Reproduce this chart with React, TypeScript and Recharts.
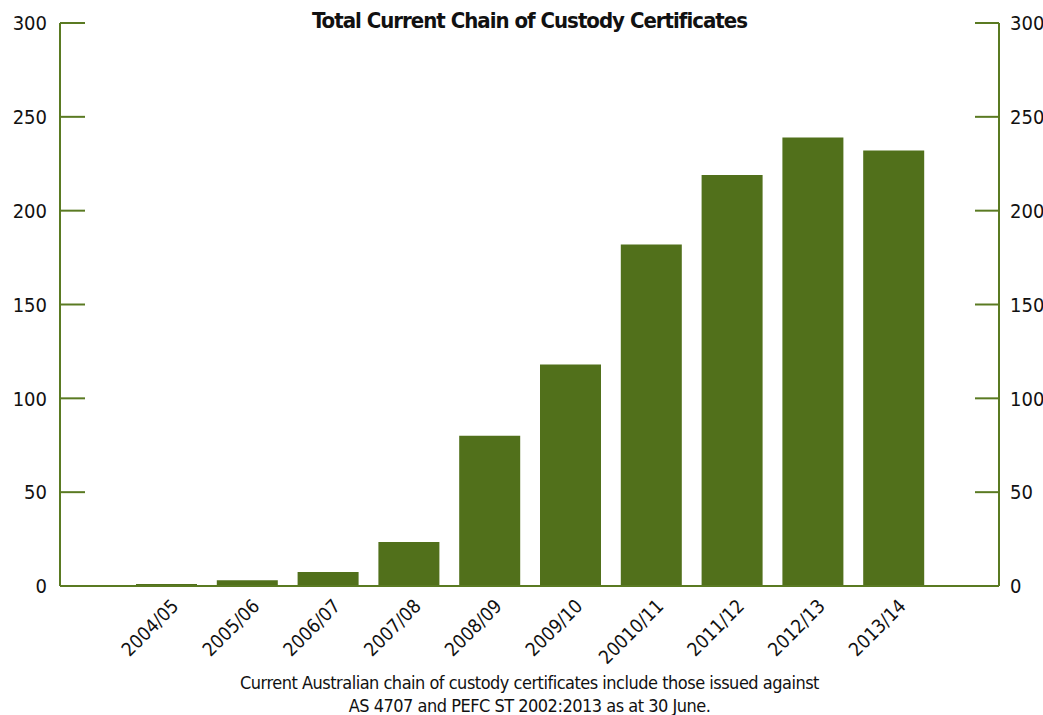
import { ComposedChart, Bar, Line, XAxis, YAxis } from "recharts";

const categories = [
  "2004/05",
  "2005/06",
  "2006/07",
  "2007/08",
  "2008/09",
  "2009/10",
  "20010/11",
  "2011/12",
  "2012/13",
  "2013/14",
];
const certificates = [1, 3, 7.5, 23.5, 80, 118, 182, 219, 239, 232];
const yTicks = [0, 50, 100, 150, 200, 250, 300];

const title = "Total Current Chain of Custody Certificates";
const noteLines = [
  "Current Australian chain of custody certificates include those issued against",
  "AS 4707 and PEFC ST 2002:2013 as at 30 June.",
];

const data = categories.map((name, i) => ({ name, value: certificates[i] }));

const GREEN = "#51701b";
const AXIS = "#5a7a22";
const FONT = '"DejaVu Sans Condensed", "DejaVu Sans", sans-serif';
const textStyle = { fontStretch: "condensed" as const };

function LeftTick({ x, y, payload }: any) {
  return (
    <g>
      <line x1={x} x2={x + 25} y1={y} y2={y} stroke={AXIS} strokeWidth={2} />
      <text x={x - 13} y={y} dy="0.36em" textAnchor="end" fontSize={20} fill="#111" fontFamily={FONT} style={textStyle}>
        {payload.value}
      </text>
    </g>
  );
}

function RightTick({ x, y, payload }: any) {
  return (
    <g>
      <line x1={x} x2={x - 24} y1={y} y2={y} stroke={AXIS} strokeWidth={2} />
      <text x={x + 11} y={y} dy="0.36em" textAnchor="start" fontSize={20} fill="#111" fontFamily={FONT} style={textStyle}>
        {payload.value}
      </text>
    </g>
  );
}

function XTick({ x, y, payload }: any) {
  return (
    <g transform={`translate(${x + 4},${y + 4})`}>
      <text transform="rotate(-45)" textAnchor="end" dy="0.7em" fontSize={19} fill="#111" fontFamily={FONT} style={textStyle}>
        {payload.value}
      </text>
    </g>
  );
}

export default function App() {
  return (
    <div style={{ position: "absolute", left: 0, top: 0, width: 1043, height: 715, background: "#fff", overflow: "hidden" }}>
      <div
        style={{
          position: "absolute",
          left: 60,
          width: 939,
          top: 8,
          textAlign: "center",
          fontFamily: FONT,
          fontStretch: "condensed",
          fontWeight: "bold",
          fontSize: 22,
          letterSpacing: -1,
          color: "#111",
        }}
      >
        {title}
      </div>
      <ComposedChart
        width={1043}
        height={715}
        data={data}
        margin={{ top: 23, right: 0, bottom: 0, left: 0 }}
        barSize={61}
      >
        <XAxis
          dataKey="name"
          interval={0}
          padding={{ left: 66, right: 65 }}
          axisLine={{ stroke: AXIS, strokeWidth: 2 }}
          tickLine={false}
          tick={<XTick />}
          height={129}
        />
        <YAxis
          yAxisId="left"
          orientation="left"
          width={60}
          domain={[0, 300]}
          ticks={yTicks}
          axisLine={{ stroke: AXIS, strokeWidth: 2 }}
          tickLine={false}
          tickSize={0}
          tickMargin={0}
          tick={<LeftTick />}
        />
        <YAxis
          yAxisId="right"
          orientation="right"
          width={44}
          domain={[0, 300]}
          ticks={yTicks}
          axisLine={{ stroke: AXIS, strokeWidth: 2 }}
          tickLine={false}
          tickSize={0}
          tickMargin={0}
          tick={<RightTick />}
        />
        <Bar yAxisId="left" dataKey="value" fill={GREEN} isAnimationActive={false} />
        <Line yAxisId="right" dataKey="value" stroke="none" dot={false} activeDot={false} isAnimationActive={false} />
      </ComposedChart>
      <div
        style={{
          position: "absolute",
          left: 0,
          width: 1059,
          top: 671,
          textAlign: "center",
          fontFamily: FONT,
          fontStretch: "condensed",
          fontSize: 18,
          letterSpacing: -0.5,
          lineHeight: "23px",
          color: "#111",
        }}
      >
        {noteLines.map((l) => (
          <div key={l}>{l}</div>
        ))}
      </div>
    </div>
  );
}
